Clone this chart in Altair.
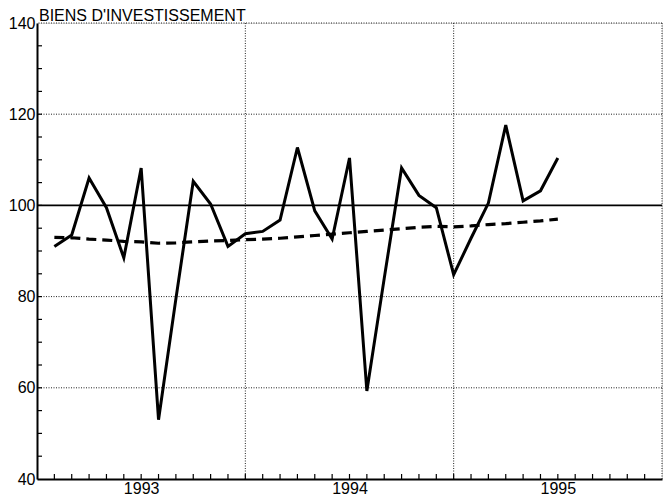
import altair as alt
import pandas as pd

# ---- data ----
months = ["1993-02", "1993-03", "1993-04", "1993-05", "1993-06", "1993-07",
          "1993-08", "1993-09", "1993-10", "1993-11", "1993-12", "1994-01",
          "1994-02", "1994-03", "1994-04", "1994-05", "1994-06", "1994-07",
          "1994-08", "1994-09", "1994-10", "1994-11", "1994-12", "1995-01",
          "1995-02", "1995-03", "1995-04", "1995-05", "1995-06", "1995-07"]
production = [91.0, 93.5, 106.0, 99.5, 88.5, 108.2, 53.0, 79.5, 105.3, 100.3,
              91.0, 93.8, 94.3, 96.8, 112.7, 98.8, 92.6, 110.4, 59.3, 84.0,
              108.2, 102.2, 99.5, 84.8, 92.8, 100.5, 117.6, 101.0, 103.2, 110.4]
tendance = [93.0, 92.9, 92.6, 92.4, 92.1, 92.0, 91.7, 91.8, 92.0, 92.2,
            92.3, 92.5, 92.6, 92.8, 93.1, 93.4, 93.7, 94.0, 94.3, 94.6,
            94.9, 95.2, 95.4, 95.3, 95.5, 95.8, 96.0, 96.3, 96.6, 97.0]
year_labels = ["1993", "1994", "1995"]
y_labels = [40, 60, 80, 100, 120, 140]
y_dotted_grid = [60, 80, 120, 140]
reference_level = [100]
title_text = "BIENS D'INVESTISSEMENT"

FIRST_YEAR = int(year_labels[0])
N_MONTHS = 12 * len(year_labels)


def month_index(m):
    y, mo = m.split("-")
    return (int(y) - FIRST_YEAR) * 12 + int(mo) - 1


df = pd.DataFrame({
    "idx": [month_index(m) for m in months],
    "mois": months,
    "production": production,
    "tendance": tendance,
})

W, H = 625, 456
FONT = "Liberation Sans"

xscale = alt.Scale(domain=[0, N_MONTHS], nice=False, zero=False)
yscale = alt.Scale(domain=[40, 140], nice=False, zero=False)

year_centers = [12 * i + 6 for i in range(len(year_labels))]
year_bounds = [12 * (i + 1) for i in range(len(year_labels))]
month_ticks = list(range(1, N_MONTHS))
y_minor = [v for v in range(45, 140, 5)]

xaxis = alt.Axis(values=year_centers, labelExpr=f"'' + ({FIRST_YEAR} + floor(datum.value / 12))",
                 ticks=False, grid=False, domainColor="black", domainWidth=2,
                 labelFont=FONT, labelFontSize=16, labelColor="black", labelPadding=1,
                 title=None)
yaxis = alt.Axis(values=y_labels, ticks=False, grid=False, domainColor="black",
                 domainWidth=2, labelFont=FONT, labelFontSize=16, labelColor="black",
                 labelPadding=2, title=None)

hgrid = alt.Chart(pd.DataFrame({"v": y_dotted_grid})).mark_rule(
    color="#222", strokeWidth=1, strokeDash=[1, 1.5]
).encode(y=alt.Y("v:Q", scale=yscale, axis=yaxis))

vgrid = alt.Chart(pd.DataFrame({"b": year_bounds})).mark_rule(
    color="#222", strokeWidth=1, strokeDash=[1, 1.5]
).encode(x=alt.X("b:Q", scale=xscale, axis=xaxis))

ref = alt.Chart(pd.DataFrame({"r": reference_level})).mark_rule(
    color="black", strokeWidth=1.8
).encode(y=alt.Y("r:Q", scale=yscale))

yticks = alt.Chart(pd.DataFrame({"t": y_minor})).mark_rule(
    color="black", strokeWidth=1.2
).encode(y=alt.Y("t:Q", scale=yscale), x=alt.value(0), x2=alt.value(5))

xticks = alt.Chart(pd.DataFrame({"m": month_ticks})).mark_rule(
    color="black", strokeWidth=1.2
).encode(x=alt.X("m:Q", scale=xscale), y=alt.value(H), y2=alt.value(H - 5))

trend = alt.Chart(df).mark_line(
    color="black", strokeWidth=3.2, strokeDash=[10, 6]
).encode(x=alt.X("idx:Q", scale=xscale), y=alt.Y("tendance:Q", scale=yscale))

prod = alt.Chart(df).mark_line(
    color="black", strokeWidth=3, strokeJoin="miter"
).encode(x=alt.X("idx:Q", scale=xscale), y=alt.Y("production:Q", scale=yscale))

title = alt.Chart(pd.DataFrame({"t": [title_text]})).mark_text(
    align="left", baseline="alphabetic", font=FONT, fontSize=16, color="black"
).encode(text="t:N", x=alt.value(2), y=alt.value(-2))

chart = alt.layer(hgrid, vgrid, ref, yticks, xticks, trend, prod, title).properties(
    width=W, height=H,
    padding={"left": 0, "top": 0, "right": 0, "bottom": 0},
).configure_view(stroke=None).configure(background="white")

chart.save("out.html", embed_options={"renderer": "svg", "actions": False})
